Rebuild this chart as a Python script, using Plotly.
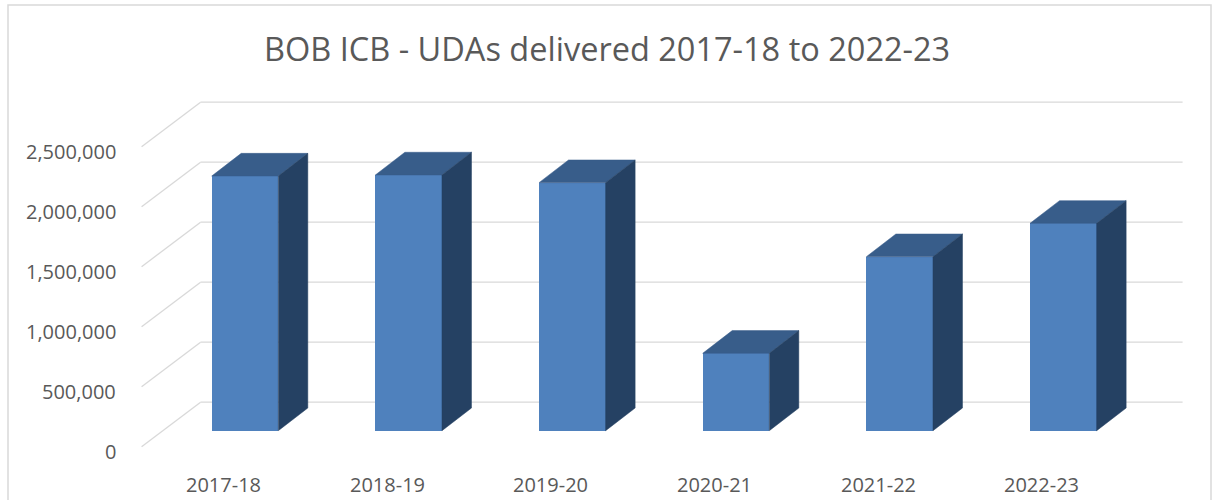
import plotly.graph_objects as go

# ---- data ----
categories = ["2017-18", "2018-19", "2019-20", "2020-21", "2021-22", "2022-23"]
udas = [2122000, 2131000, 2067000, 645000, 1450000, 1728000]
y_ticks = [0, 500000, 1000000, 1500000, 2000000, 2500000]
y_tick_labels = ["0", "500,000", "1,000,000", "1,500,000", "2,000,000", "2,500,000"]
title_text = "BOB ICB - UDAs delivered 2017-18 to 2022-23"

# ---- geometry (oblique 3D projection, in axis units) ----
W, H = 1216, 500
PX_CAT = 163.67            # pixels per category
PX_VAL = 60 / 500000       # pixels per value unit
X0_PX = 223.4              # pixel of category 0 centre (front of floor)
Y0_PX = 446.7              # pixel of value 0 (front of floor)

def dx(px):
    return px / PX_CAT

def dv(px):
    return px / PX_VAL

FLOOR_DX, FLOOR_DV = dx(59), dv(44.5)      # full depth of the floor
BAR_DX, BAR_DV = dx(29.5), dv(22.7)        # depth of each bar
BAR_OFF_X, BAR_OFF_V = dx(21.6), dv(16.0)  # front face position in depth
BAR_W = dx(66.6)

GRID = "#D9D9D9"
FRONT, TOP, SIDE = "#4F81BD", "#385D8A", "#254163"
TXT = "#595959"
FONT = "Open Sans"

fig = go.Figure()

xs = [i + BAR_OFF_X for i in range(len(categories))]
fig.add_trace(go.Bar(
    x=xs, y=udas, base=[BAR_OFF_V] * len(udas), width=BAR_W,
    marker=dict(color=FRONT, line=dict(width=0)), hoverinfo="skip",
))

for xc, v in zip(xs, udas):
    xl, xr = xc - BAR_W / 2, xc + BAR_W / 2
    b, t = BAR_OFF_V, BAR_OFF_V + v
    # top face
    fig.add_trace(go.Scatter(
        x=[xl, xr, xr + BAR_DX, xl + BAR_DX, xl],
        y=[t, t, t + BAR_DV, t + BAR_DV, t],
        fill="toself", fillcolor=TOP, mode="lines",
        line=dict(color=TOP, width=0.5), hoverinfo="skip",
    ))
    # side face
    fig.add_trace(go.Scatter(
        x=[xr, xr, xr + BAR_DX, xr + BAR_DX, xr],
        y=[b, t, t + BAR_DV, b + BAR_DV, b],
        fill="toself", fillcolor=SIDE, mode="lines",
        line=dict(color=SIDE, width=0.5), hoverinfo="skip",
    ))

shapes = []
x_front_left = -0.5
x_back_left = x_front_left + FLOOR_DX
x_back_right = len(categories) - 0.5 + FLOOR_DX
for v in y_ticks:
    shapes.append(dict(type="line", xref="x", yref="y", layer="below",
                       x0=x_front_left, y0=v, x1=x_back_left, y1=v + FLOOR_DV,
                       line=dict(color=GRID, width=1.3)))
    shapes.append(dict(type="line", xref="x", yref="y", layer="below",
                       x0=x_back_left, y0=v + FLOOR_DV, x1=x_back_right, y1=v + FLOOR_DV,
                       line=dict(color=GRID, width=1.3)))
# chart border
shapes.append(dict(type="rect", xref="paper", yref="paper",
                   x0=8 / W, x1=1211 / W, y0=-0.2, y1=1 - 5 / H,
                   line=dict(color=GRID, width=1.5)))

annotations = []
for v, lab in zip(y_ticks, y_tick_labels):
    annotations.append(dict(x=x_front_left - dx(24), y=v, xref="x", yref="y",
                            text=lab, showarrow=False, xanchor="right", yanchor="middle",
                            yshift=-5, font=dict(family=FONT, size=20, color=TXT)))
for i, lab in enumerate(categories):
    annotations.append(dict(x=i, y=0, xref="x", yref="y", text=lab, showarrow=False,
                            xanchor="center", yanchor="middle", yshift=-38,
                            font=dict(family=FONT, size=20, color=TXT)))
annotations.append(dict(x=606.5 / W, y=1 - 49 / H, xref="paper", yref="paper",
                        text=title_text, showarrow=False, xanchor="center", yanchor="middle",
                        font=dict(family=FONT, size=32.5, color=TXT)))

fig.update_layout(
    width=W, height=H, margin=dict(l=0, r=0, t=0, b=0),
    paper_bgcolor="white", plot_bgcolor="white", showlegend=False,
    xaxis=dict(range=[dx(0 - X0_PX), dx(W - X0_PX)], visible=False, fixedrange=True),
    yaxis=dict(range=[dv(Y0_PX - H), dv(Y0_PX)], visible=False, fixedrange=True),
    shapes=shapes, annotations=annotations, bargap=0,
)

fig.write_html("out.html", config={"displayModeBar": False},
               post_script="document.body.style.margin='0';")
